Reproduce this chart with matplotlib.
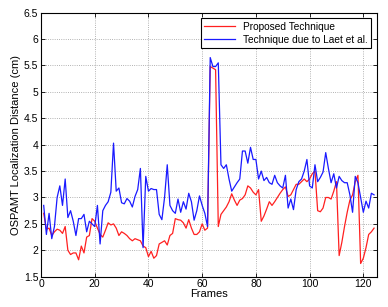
import numpy as np
import matplotlib
matplotlib.use('Agg')
import matplotlib.pyplot as plt

plt.rcParams['font.family'] = ['Liberation Sans', 'DejaVu Sans']

# Frame indices
frames = np.arange(1, 125)

# Proposed technique (red)
proposed = [2.7, 2.4, 2.42, 2.28, 2.35, 2.4, 2.38, 2.32, 2.45, 2.0,
            1.92, 1.95, 1.95, 1.82, 2.08, 1.95, 2.25, 2.28, 2.6, 2.55,
            2.42, 2.3, 2.25, 2.38, 2.52, 2.48, 2.5, 2.42, 2.28, 2.35,
            2.32, 2.28, 2.22, 2.18, 2.22, 2.2, 2.18, 2.08, 2.05, 1.88,
            1.98, 1.85, 1.9, 2.12, 2.15, 2.18, 2.1, 2.28, 2.32, 2.6,
            2.58, 2.57, 2.52, 2.42, 2.58, 2.42, 2.3, 2.3, 2.35, 2.5,
            2.38, 2.42, 5.48, 5.45, 5.42, 2.45, 2.68, 2.75, 2.82, 2.92,
            3.07, 2.95, 2.85, 2.95, 2.98, 3.05, 3.22, 3.18, 3.1, 3.05,
            3.15, 2.55, 2.65, 2.78, 2.92, 2.85, 2.92, 3.0, 3.08, 3.15,
            3.2, 3.02, 3.05, 3.15, 3.25, 3.25, 3.3, 3.35, 3.3, 3.35,
            3.45, 3.5, 2.75, 2.73, 2.8, 3.0, 3.0, 2.97, 3.12, 3.3,
            1.9, 2.15, 2.45, 2.72, 2.95, 3.05, 3.3, 3.42, 1.75, 1.85,
            2.05, 2.3, 2.35, 2.42]

# Technique due to Laet et al. (blue)
laet = [2.85, 2.3, 2.7, 2.22, 2.45, 3.0, 3.22, 2.85, 3.35, 2.62,
        2.75, 2.55, 2.28, 2.6, 2.6, 2.68, 2.35, 2.55, 2.5, 2.45,
        2.85, 2.12, 2.75, 2.85, 2.92, 3.1, 4.03, 3.12, 3.18, 2.9,
        2.88, 2.98, 2.93, 2.82, 3.02, 3.15, 3.55, 2.05, 3.4, 3.12,
        3.17, 3.15, 3.15, 2.68, 2.58, 3.0, 3.62, 2.85, 2.75, 2.7,
        2.97, 2.72, 2.92, 2.78, 3.08, 2.92, 2.57, 2.75, 3.03, 2.85,
        2.7, 2.45, 5.65, 5.48, 5.48, 5.55, 3.62, 3.55, 3.62, 3.35,
        3.12, 3.2, 3.28, 3.35, 3.88, 3.88, 3.65, 3.95, 3.72, 3.72,
        3.35, 3.5, 3.32, 3.38, 3.28, 3.25, 3.42, 3.28, 3.22, 3.18,
        3.42, 2.8, 2.97, 2.77, 3.15, 3.3, 3.35, 3.5, 3.72, 3.22,
        3.18, 3.62, 3.3, 3.38, 3.48, 3.85, 3.55, 3.28, 3.45, 3.18,
        3.4, 3.32, 3.28, 3.28, 3.05, 2.72, 3.4, 3.28, 3.0, 2.72,
        2.93, 2.8, 3.08, 3.05]

fig = plt.figure(figsize=(3.88, 3.07), dpi=100)
ax = fig.add_axes([0.1057, 0.0987, 0.8653, 0.86])

ax.plot(frames, proposed, color='#ff2020', lw=0.9, label='Proposed Technique')
ax.plot(frames, laet, color='#1a1aff', lw=0.9, label='Technique due to Laet et al.')

ax.set_xlim(0, 125)
ax.set_ylim(1.5, 6.5)
ax.set_xticks([0, 20, 40, 60, 80, 100, 120])
ax.set_yticks(np.arange(1.5, 6.6, 0.5))
ax.set_yticklabels(['1.5', '2', '2.5', '3', '3.5', '4', '4.5', '5', '5.5', '6', '6.5'])
ax.tick_params(labelsize=7.5, direction='in', length=3, width=0.6, top=True, right=True, pad=2)
ax.grid(True, linestyle=':', color='#999999', lw=0.6)
for s in ax.spines.values():
    s.set_linewidth(0.8)

ax.set_xlabel('Frames', fontsize=8, labelpad=0)
ax.set_ylabel('OSPAMT Localization Distance (cm)', fontsize=8, labelpad=2)

leg = ax.legend(loc='upper right', fontsize=7.3, fancybox=False, framealpha=1,
                edgecolor='black', borderaxespad=0.55, handlelength=3.0,
                borderpad=0.35, labelspacing=0.3)
leg.get_frame().set_linewidth(0.8)

plt.savefig('out.png', dpi=100)
